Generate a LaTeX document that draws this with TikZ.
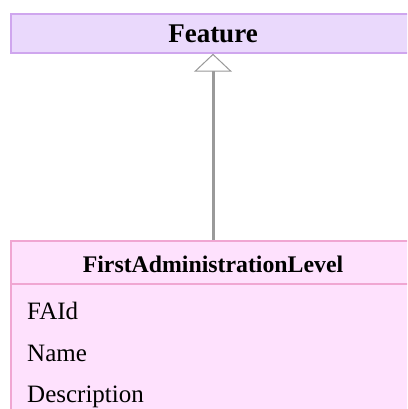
\documentclass[tikz,border=0pt]{standalone}
\usepackage{fontspec}
\setmainfont{Liberation Serif}
\usetikzlibrary{arrows.meta}
\definecolor{featfill}{HTML}{EAD9FC}
\definecolor{featdraw}{HTML}{CFA6EE}
\definecolor{clsfill}{HTML}{FEE1FD}
\definecolor{clsdraw}{HTML}{F0A6D2}
\definecolor{linkgray}{HTML}{9A9A9A}
\tikzset{
  featbox/.style={draw=featdraw, fill=featfill, line width=1.5pt, minimum width=404pt, minimum height=39pt, inner sep=0pt, font=\fontsize{27}{30}\selectfont\bfseries},
  clsbox/.style={draw=clsdraw, fill=clsfill, line width=1.5pt, minimum width=404pt, minimum height=200pt, inner sep=0pt},
  hdr/.style={font=\fontsize{23.8}{27}\selectfont\bfseries, inner sep=0pt},
  attr/.style={font=\fontsize{25}{28}\selectfont, anchor=west, inner sep=0pt},
  gen/.style={draw=linkgray, line width=3pt, -{Triangle[open, length=18pt, width=38pt, line width=1pt, color=gray!80, fill=white]}}
}
\begin{document}
\begin{tikzpicture}[x=1pt,y=-1pt]
\useasboundingbox (0,0) rectangle (407,409);
\clip (0,0) rectangle (407,409);
\fill[white] (0,0) rectangle (407,409);
\node[featbox] (feat) at (213,33.5) {Feature};
\node[clsbox, anchor=north] (cls) at (213,240) {};
\node[hdr] (hdr) at (213,264) {FirstAdministrationLevel};
\coordinate (sepL) at (11,284);
\coordinate (sepR) at (415,284);
\draw[clsdraw, line width=1.2pt] (sepL) -- (sepR);
\node[attr] (a1) at (27,311) {FAId};
\node[attr] (a2) at (27,353) {Name};
\node[attr] (a3) at (27,397) {Description};
\draw[gen] (cls.north) -- (feat.south);
\end{tikzpicture}
\end{document}
